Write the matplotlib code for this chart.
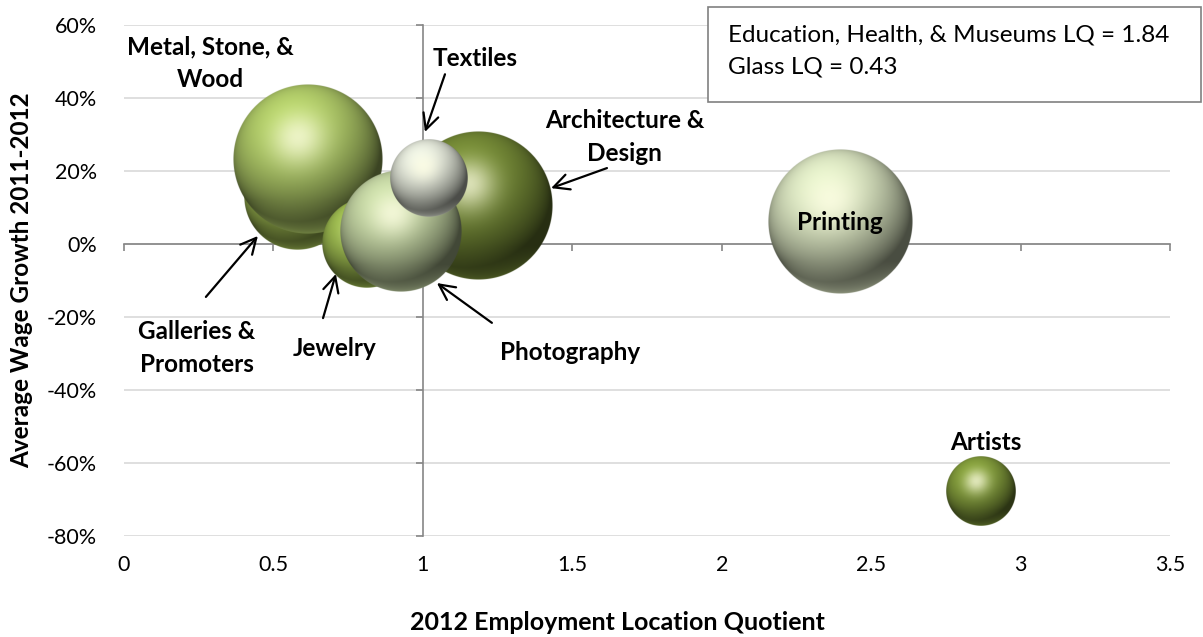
import numpy as np
import matplotlib.pyplot as plt
from matplotlib.colors import to_rgb
from matplotlib.patches import Rectangle

# industry bubbles: location quotient, wage growth (%), employment
names = ["Galleries & Promoters", "Metal, Stone, & Wood", "Jewelry",
         "Architecture & Design", "Photography", "Textiles", "Printing", "Artists"]
lq = [0.58, 0.616, 0.813, 1.184, 0.927, 1.021, 2.396, 2.868]
wage_growth = [12.9, 23.3, 0.3, 10.4, 3.6, 18.1, 6.0, -67.7]
employment = [2800, 5600, 2000, 5500, 3700, 1500, 5200, 1200]
colors = ["#98b24e", "#a6bf62", "#96b24c", "#6e8233", "#b9c99a",
          "#d4d8cb", "#cdd7b5", "#7b9338"]

x_ticks = [0, 0.5, 1, 1.5, 2, 2.5, 3, 3.5]
y_ticks = [-80, -60, -40, -20, 0, 20, 40, 60]

# label text, label position, arrow (tail, head) or None
labels = [
    ("Metal, Stone, &\nWood", (0.288, 49.6), None),
    ("Textiles", (1.174, 50.7), ((1.074, 46.5), (1.007, 30.7))),
    ("Architecture &\nDesign", (1.676, 29.3), ((1.616, 20.8), (1.429, 15.3))),
    ("Printing", (2.396, 6.0), None),
    ("Galleries &\nPromoters", (0.244, -28.5), ((0.274, -14.5), (0.448, 2.2))),
    ("Jewelry", (0.706, -28.5), ((0.666, -20.3), (0.709, -8.2))),
    ("Photography", (1.492, -29.6), ((1.231, -21.6), (1.047, -10.7))),
    ("Artists", (2.884, -54.5), None),
]

plt.rcParams['font.family'] = ['Lato', 'DejaVu Sans']


def sphere(base, n=301):
    u = np.linspace(-1, 1, n)
    X, Y = np.meshgrid(u, -u)
    r = np.sqrt(X**2 + Y**2)
    Z = np.sqrt(np.clip(1 - r**2, 0, None))
    L = np.array([-0.25, 0.55, 0.80])
    L /= np.linalg.norm(L)
    diff = np.clip(X * L[0] + Y * L[1] + Z * L[2], 0, 1)
    H = L + np.array([0, 0, 1.0])
    H /= np.linalg.norm(H)
    spec = np.clip(X * H[0] + Y * H[1] + Z * H[2], 0, 1) ** 16
    bounce = np.clip(-Y - 0.55, 0, None) * (1 - Z) * 0.9
    c = np.array(to_rgb(base))
    rgb = c * (0.36 + 0.78 * diff)[..., None]
    rgb = rgb + (np.array([1.0, 1.0, 0.90]) - rgb) * (0.72 * spec)[..., None]
    rgb = rgb + (c * 1.25 - rgb).clip(0) * bounce[..., None]
    rgb = rgb.clip(0, 1)
    alpha = np.clip((1 - r) * n / 2, 0, 1)
    return np.dstack([rgb, alpha])


fig = plt.figure(figsize=(12.03, 6.37), dpi=100)
pos = [124 / 1203, 101 / 637, 1046 / 1203, 511 / 637]

# tick labels sit on the outer frame
ax_lab = fig.add_axes(pos, frameon=False)
ax_lab.set_xlim(0, 3.5)
ax_lab.set_ylim(-80, 60)
ax_lab.set_xticks(x_ticks)
ax_lab.set_xticklabels([f"{t:g}" for t in x_ticks])
ax_lab.set_yticks(y_ticks)
ax_lab.set_yticklabels([f"{t}%" for t in y_ticks])
ax_lab.tick_params(length=0, labelsize=15.5, colors="#000000")
ax_lab.tick_params(axis="y", pad=19.5)
ax_lab.tick_params(axis="x", pad=14)
for t in y_ticks:
    ax_lab.axhline(t, color="#d9d9d9", lw=1.2, zorder=0)

# crossing axes at LQ = 1 and growth = 0
ax = fig.add_axes(pos, frameon=True)
ax.patch.set_visible(False)
ax.set_xlim(0, 3.5)
ax.set_ylim(-80, 60)
ax.set_xticks(x_ticks)
ax.set_yticks(y_ticks)
ax.set_xticklabels([])
ax.set_yticklabels([])
for s in ["top", "right"]:
    ax.spines[s].set_visible(False)
ax.spines["left"].set_position(("data", 1))
ax.spines["bottom"].set_position(("data", 0))
for s in ["left", "bottom"]:
    ax.spines[s].set_color("#868686")
    ax.spines[s].set_linewidth(1.2)
ax.tick_params(direction="out", length=5, width=1.2, color="#868686")

fig.canvas.draw()
to_data = ax.transData.inverted()
r_scale = 75 / np.sqrt(max(employment))
for i in range(len(names)):
    cx, cy = ax.transData.transform((lq[i], wage_growth[i]))
    rad = r_scale * np.sqrt(employment[i])
    x0, y0 = to_data.transform((cx - rad, cy - rad))
    x1, y1 = to_data.transform((cx + rad, cy + rad))
    ax.imshow(sphere(colors[i]), extent=[x0, x1, y0, y1], zorder=3 + i,
              interpolation="antialiased", aspect="auto")
ax.set_xlim(0, 3.5)
ax.set_ylim(-80, 60)

for text, xy, arrow in labels:
    ax.text(xy[0], xy[1], text, ha="center", va="center", fontsize=17.5,
            fontweight="bold", zorder=20, linespacing=1.5)
    if arrow is not None:
        ax.annotate("", xy=arrow[1], xytext=arrow[0], zorder=20,
                    arrowprops=dict(arrowstyle="->", color="black", lw=1.6,
                                    mutation_scale=28, shrinkA=0, shrinkB=0))

fig.text(22 / 1203, 1 - 280 / 637, "Average Wage Growth 2011-2012",
         rotation=90, ha="center", va="center", fontsize=17.5,
         fontweight="bold")
fig.text(617 / 1203, 1 - 623 / 637, "2012 Employment Location Quotient",
         ha="center", va="center", fontsize=18, fontweight="bold")

# info box
fig.patches.append(Rectangle((708 / 1203, 1 - 102 / 637), 493 / 1203, 95 / 637,
                             transform=fig.transFigure, facecolor="white",
                             edgecolor="#808080", lw=1.2, zorder=30))
fig.text(728 / 1203, 1 - 51 / 637,
         "Education, Health, & Museums LQ = 1.84\nGlass LQ = 0.43",
         ha="left", va="center", fontsize=17.5, linespacing=1.68, zorder=31)

fig.savefig("out.png", dpi=100)
